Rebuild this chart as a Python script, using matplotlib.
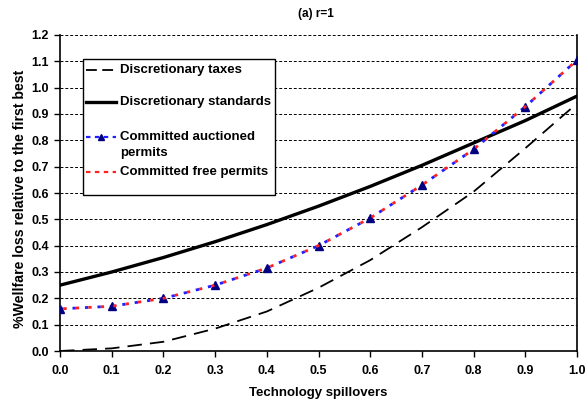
import matplotlib
matplotlib.use("Agg")
import matplotlib.pyplot as plt
from matplotlib.lines import Line2D
from matplotlib.patches import Rectangle

plt.rcParams['font.family'] = ['Liberation Sans', 'DejaVu Sans']
plt.rcParams['font.weight'] = 'bold'

spillover = [0.0, 0.1, 0.2, 0.3, 0.4, 0.5, 0.6, 0.7, 0.8, 0.9, 1.0]
disc_taxes = [0.0, 0.01, 0.035, 0.085, 0.15, 0.24, 0.345, 0.47, 0.605, 0.77, 0.94]
disc_standards = [0.25, 0.30, 0.355, 0.415, 0.48, 0.55, 0.625, 0.705, 0.79, 0.875, 0.968]
committed_auctioned = [0.16, 0.17, 0.20, 0.25, 0.315, 0.40, 0.505, 0.63, 0.766, 0.928, 1.105]
committed_free = [0.16, 0.17, 0.20, 0.25, 0.315, 0.40, 0.505, 0.63, 0.766, 0.928, 1.105]

x_ticks = [0.0, 0.1, 0.2, 0.3, 0.4, 0.5, 0.6, 0.7, 0.8, 0.9, 1.0]
y_ticks = [0.0, 0.1, 0.2, 0.3, 0.4, 0.5, 0.6, 0.7, 0.8, 0.9, 1.0, 1.1, 1.2]

W, H = 587, 408
fig = plt.figure(figsize=(W / 100, H / 100), dpi=100)
ax = fig.add_axes([60 / W, 1 - 351 / H, 517 / W, 316 / H])

for yv in y_ticks[1:]:
    ax.axhline(yv, color='black', lw=0.7, ls=(0, (3, 2)), zorder=1)

ax.plot(spillover, disc_taxes, color='black', lw=1.3, ls=(0, (8, 4.5)), zorder=3)
ax.plot(spillover, disc_standards, color='black', lw=2.4, zorder=3)
ax.plot(spillover, committed_auctioned, color='#2020ff', lw=2.0, ls=(0, (1.2, 3.3)),
        marker='^', ms=6, mfc='#000080', mec='#000080', zorder=4)
ax.plot(spillover, committed_free, color='#ff2020', lw=2.0, ls=(-1.2, (1.2, 3.3)), zorder=5)

ax.set_xlim(0, 1.0)
ax.set_ylim(0, 1.2)
ax.set_xticks(x_ticks)
ax.set_xticklabels([f"{v:.1f}" for v in x_ticks])
ax.set_yticks(y_ticks)
ax.set_yticklabels([f"{v:.1f}" for v in y_ticks])
ax.tick_params(axis='both', direction='out', length=4, width=1, labelsize=9, pad=6)
ax.tick_params(axis='y', pad=4)
ax.spines['top'].set_visible(False)
for s in ['left', 'bottom', 'right']:
    ax.spines[s].set_linewidth(1.2)


def fx(px):
    return px / W


def fy(py):
    return 1 - py / H


fig.text(fx(318.5), fy(393), "Technology spillovers", ha='center', va='center',
         fontsize=9.5, fontweight='bold')
fig.text(fx(20), fy(199), "%Wellfare loss relative to the first best", ha='center',
         va='center', rotation=90, fontsize=10.2, fontweight='bold')
fig.text(fx(316), fy(14), "(a) r=1", ha='center', va='center', fontsize=8.5, fontweight='bold')

# Legend drawn in figure pixel coordinates
fig.patches.append(Rectangle((fx(83), fy(195)), fx(275) - fx(83), fy(59) - fy(195),
                             transform=fig.transFigure, facecolor='white',
                             edgecolor='black', lw=1.0, zorder=10))

entries = [
    (70, "Discretionary taxes", dict(color='black', lw=1.3, ls=(0, (6, 3)))),
    (102, "Discretionary standards", dict(color='black', lw=2.4)),
    (137, "Committed auctioned", dict(color='#2020ff', lw=1.6, ls=(0, (2, 2)))),
    (172, "Committed free permits", dict(color='#ff2020', lw=1.6, ls=(0, (2, 2)))),
]
for py, label, style in entries:
    fig.add_artist(Line2D([fx(86), fx(116)], [fy(py), fy(py)], transform=fig.transFigure,
                          zorder=11, **style))
    fig.text(fx(120), fy(py), label, ha='left', va='center',
             fontsize=9.5, fontweight='bold', zorder=12)
fig.text(fx(120), fy(153), "permits", ha='left', va='center',
         fontsize=9.5, fontweight='bold', zorder=12)
fig.add_artist(Line2D([fx(101)], [fy(137)], transform=fig.transFigure, marker='^', ms=5,
                      mfc='#000080', mec='#000080', lw=0, zorder=12))

fig.savefig("out.png", dpi=100)
